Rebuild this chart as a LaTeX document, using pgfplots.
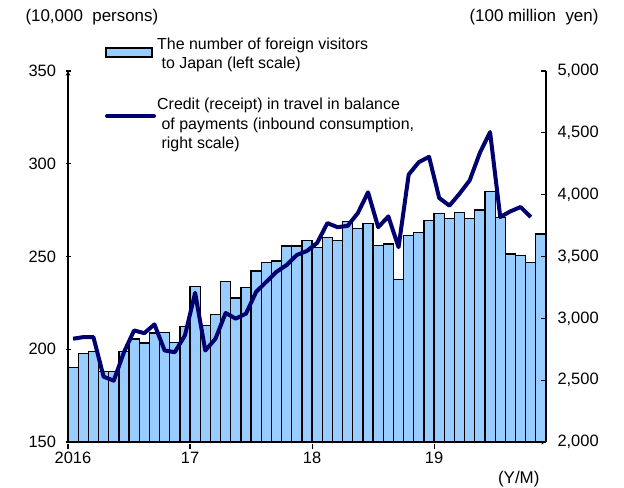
\documentclass[border=0pt]{standalone}
\usepackage{pgfplots}
\pgfplotsset{compat=1.18}
\usepackage{pgfplotstable}
\usepackage{fontspec}
\setmainfont{Liberation Sans}
\definecolor{barblue}{RGB}{153,204,255}
\definecolor{navy}{RGB}{0,0,110}
\pgfplotstableread{
x v
0.5 190.2
1.5 197.8
2.5 198.7
3.5 187.9
4.5 187.9
5.5 198.7
6.5 205.6
7.5 203.3
8.5 208.7
9.5 209.2
10.5 203.8
11.5 212.3
12.5 234.0
13.5 212.8
14.5 218.6
15.5 236.7
16.5 227.6
17.5 233.2
18.5 242.1
19.5 246.6
20.5 247.5
21.5 255.6
22.5 255.6
23.5 258.5
24.5 254.8
25.5 260.3
26.5 258.5
27.5 268.8
28.5 265.2
29.5 267.6
30.5 255.8
31.5 256.7
32.5 237.6
33.5 261.2
34.5 263.0
35.5 269.4
36.5 273.0
37.5 270.3
38.5 273.9
39.5 270.6
40.5 275.1
41.5 285.1
42.5 271.2
43.5 251.3
44.5 250.4
45.5 246.8
46.5 262.1
}\visitors
\pgfplotstableread{
x v
0.5 2835
1.5 2848
2.5 2848
3.5 2528
4.5 2496
5.5 2726
6.5 2902
7.5 2880
8.5 2951
9.5 2740
10.5 2726
11.5 2862
12.5 3206
13.5 2740
14.5 2835
15.5 3043
16.5 2997
17.5 3038
18.5 3214
19.5 3295
20.5 3376
21.5 3431
22.5 3512
23.5 3545
24.5 3610
25.5 3770
26.5 3737
27.5 3748
28.5 3851
29.5 4019
30.5 3737
31.5 3824
32.5 3575
33.5 4163
34.5 4263
35.5 4306
36.5 3973
37.5 3911
38.5 4008
39.5 4116
40.5 4339
41.5 4506
42.5 3819
43.5 3865
44.5 3900
45.5 3819
}\credit
\begin{document}
\begin{tikzpicture}[x=1bp,y=1bp]
\useasboundingbox (0,0) rectangle (624,488);
\pgfplotsset{
  every axis/.append style={
    scale only axis, width=478bp, height=371bp,
    at={(68bp,46bp)}, anchor=south west,
    xmin=0, xmax=47,
    tick label style={font=\fontsize{16.5}{18}\selectfont},
    /pgf/number format/assume math mode=true,
    axis line style={line width=1.1pt,-},
    major tick style={line width=1.1pt,black},
    major tick length=5bp,
    tick align=inside,
  }
}
\begin{axis}[
  axis x line=bottom, axis y line=left,
  ymin=150, ymax=350, ytick={150,200,...,350},
  xtick={0,12,24,36}, xticklabels={\hspace{10bp}2016,17,18,19},
  xtick style={yshift=-5bp},
  xticklabel style={yshift=-4bp},
  yticklabel style={xshift=-6bp},
]
\addplot[ybar, bar width=1, bar shift=0, fill=barblue, draw=black, line width=1.3pt] table[x=x,y=v] {\visitors};
\end{axis}
\begin{axis}[
  axis x line=none, axis y line*=right,
  ymin=2000, ymax=5000, ytick={2000,2500,...,5000},
  /pgf/number format/1000 sep={,},
  yticklabel style={xshift=8bp},
]
\addplot[navy, line width=4bp, line join=round] table[x=x,y=v] {\credit};
\end{axis}
\node[anchor=west, font=\fontsize{17}{19}\selectfont] at (22,471) {(10,000\ \ persons)};
\node[anchor=east, font=\fontsize{17}{19}\selectfont] at (602,471) {(100 million\ \ yen)};
\node[anchor=east, font=\fontsize{17}{19}\selectfont] at (543,9) {(Y/M)};
\draw[fill=barblue, draw=black, line width=1.3pt] (106,431) rectangle (152,440);
\draw[navy, line width=4bp, line cap=round] (107,372) -- (154,372);
\begin{scope}[font=\fontsize{16}{18}\selectfont]
\node[anchor=base west, inner sep=0] at (157,438) {The number of foreign visitors};
\node[anchor=base west, inner sep=0] at (157,419) {\ to Japan (left scale)};
\node[anchor=base west, inner sep=0] at (157,378) {Credit (receipt) in travel in balance};
\node[anchor=base west, inner sep=0] at (157,358) {\ of payments (inbound consumption,};
\node[anchor=base west, inner sep=0] at (157,339) {\ right scale)};
\end{scope}
\end{tikzpicture}
\end{document}
